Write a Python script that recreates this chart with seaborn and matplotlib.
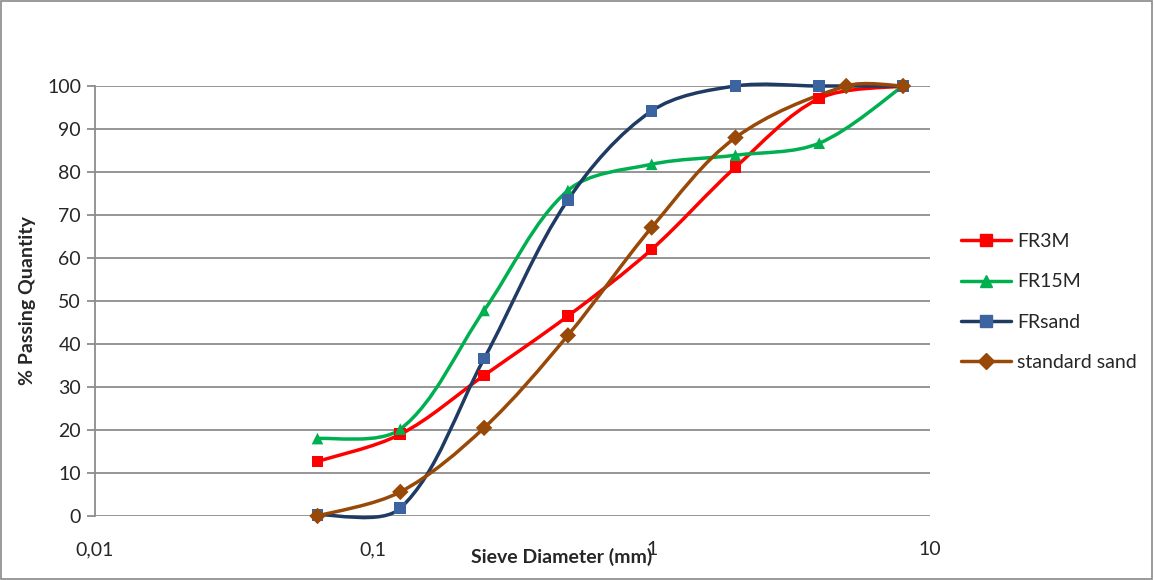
import numpy as np
import pandas as pd
import seaborn as sns
import matplotlib
matplotlib.use("Agg")
import matplotlib.pyplot as plt
from matplotlib.path import Path
from matplotlib.patches import PathPatch, Rectangle
from matplotlib.lines import Line2D
from matplotlib.ticker import FixedLocator, FuncFormatter, NullLocator

# sieve sizes (mm) and % passing
sieve = [0.063, 0.125, 0.25, 0.5, 1, 2, 4, 8]
sieve_std = [0.063, 0.125, 0.25, 0.5, 1, 2, 5, 8]
fr3m = [12.7, 19.0, 32.7, 46.5, 62.0, 81.1, 97.1, 100]
fr15m = [18.0, 20.2, 47.8, 75.7, 81.8, 83.9, 86.7, 100]
frsand = [0.3, 1.8, 36.6, 73.5, 94.2, 100, 100, 100]
std_sand = [0.0, 5.6, 20.5, 42.0, 67.1, 88.0, 100, 100]

series = ["FR3M", "FR15M", "FRsand", "standard sand"]
line_colors = ["#FF0000", "#00B050", "#1F3B63", "#984807"]
marker_colors = ["#FF0000", "#00B050", "#3B64A0", "#984807"]
markers = ["s", "^", "s", "D"]

x_ticks = [0.01, 0.1, 1, 10]
y_ticks = list(range(0, 101, 10))

rows = []
for name, xs, ys in [("FR3M", sieve, fr3m), ("FR15M", sieve, fr15m),
                     ("FRsand", sieve, frsand), ("standard sand", sieve_std, std_sand)]:
    for x, y in zip(xs, ys):
        rows.append({"series": name, "size": x, "passing": y})
df = pd.DataFrame(rows)

# screen scale (px per decade, px per % unit) used to weight the smoothing
PX_DEC, PX_Y = 278.0, 4.3


def smooth_path(xs, ys):
    # Excel-like smoothed line: cubic Bezier, tangents weighted by segment length
    lx = np.log10(np.asarray(xs, float))
    y = np.asarray(ys, float)
    n = len(lx)
    d = np.hypot(np.diff(lx) * PX_DEC, np.diff(y) * PX_Y)
    verts = [(xs[0], y[0])]
    codes = [Path.MOVETO]
    for i in range(n - 1):
        i0 = max(i - 1, 0)
        i3 = min(i + 2, n - 1)
        dprev = d[i - 1] if i > 0 else d[i]
        dnext = d[i + 1] if i + 1 < n - 1 else d[i]
        f1 = d[i] / (dprev + d[i]) / 3
        f2 = d[i] / (d[i] + dnext) / 3
        c1x = lx[i] + (lx[i + 1] - lx[i0]) * f1
        c1y = y[i] + (y[i + 1] - y[i0]) * f1
        c2x = lx[i + 1] - (lx[i3] - lx[i]) * f2
        c2y = y[i + 1] - (y[i3] - y[i]) * f2
        verts += [(10 ** c1x, c1y), (10 ** c2x, c2y), (xs[i + 1], y[i + 1])]
        codes += [Path.CURVE4] * 3
    return Path(verts, codes)


sns.set_theme(style="white")
plt.rcParams["font.family"] = ["Lato", "DejaVu Sans"]

fig = plt.figure(figsize=(11.54, 5.8), dpi=100)
ax = fig.add_axes([95 / 1154, 1 - 516 / 580, 835 / 1154, 430 / 580])

for name, lc in zip(series, line_colors):
    sub = df[df["series"] == name]
    patch = PathPatch(smooth_path(list(sub["size"]), list(sub["passing"])),
                      facecolor="none", edgecolor=lc, lw=2.5, clip_on=False,
                      zorder=3, capstyle="round", joinstyle="round")
    ax.add_patch(patch)

sns.scatterplot(data=df, x="size", y="passing", hue="series", style="series",
                hue_order=series, style_order=series,
                palette=dict(zip(series, marker_colors)),
                markers=dict(zip(series, markers)), s=70, linewidth=0,
                legend=False, ax=ax, zorder=4, clip_on=False)

ax.set_xscale("log")
ax.set_xlim(0.01, 10)
ax.set_ylim(0, 100)
ax.xaxis.set_major_locator(FixedLocator(x_ticks))
ax.xaxis.set_minor_locator(NullLocator())
ax.xaxis.set_major_formatter(FuncFormatter(lambda v, p: f"{v:g}".replace(".", ",")))
ax.set_yticks(y_ticks)

ax.grid(axis="y", color="#8C8C8C", lw=1.3)
ax.grid(axis="x", visible=False)
for s in ["top", "right", "bottom"]:
    ax.spines[s].set_visible(False)
ax.spines["left"].set_color("#8C8C8C")
ax.spines["left"].set_linewidth(1.3)
ax.tick_params(axis="y", length=6, width=1.3, color="#8C8C8C", labelsize=14,
               pad=4, left=True)
ax.tick_params(axis="x", length=0, labelsize=14, pad=18)
ax.set_xlabel("")
ax.set_ylabel("% Passing Quantity", fontsize=14, fontweight="bold", labelpad=8)

fig.text(562 / 1154, 1 - 557 / 580, "Sieve Diameter (mm)", fontsize=14,
         fontweight="bold", ha="center", va="center")

handles = [Line2D([0], [0], color=lc, lw=2.5, marker=m, markersize=8,
                  markerfacecolor=mc, markeredgecolor=mc)
           for lc, mc, m in zip(line_colors, marker_colors, markers)]
fig.legend(handles, series, loc="center left", bbox_to_anchor=(943 / 1154, 1 - 302 / 580),
           frameon=False, fontsize=14, handlelength=2.6, handletextpad=0.3,
           labelspacing=1.2)

fig.patches.append(Rectangle((0.0005, 0.001), 0.998, 0.997, transform=fig.transFigure,
                             fill=False, edgecolor="#898989", lw=1.2))

fig.savefig("out.png", dpi=100, facecolor="white")
